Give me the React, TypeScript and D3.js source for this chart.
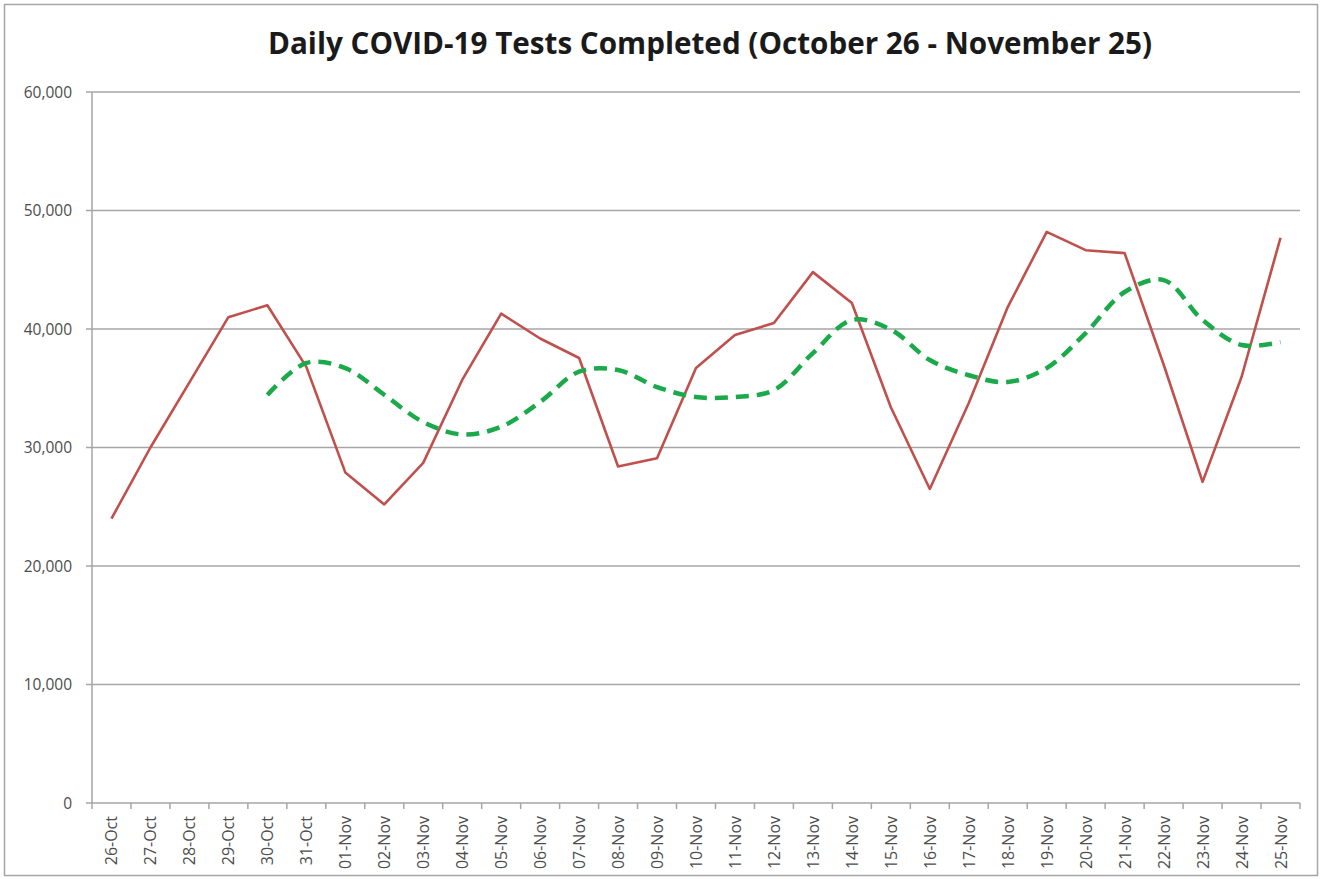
import React from "react";
import * as d3 from "d3";

const dates = [
  "26-Oct","27-Oct","28-Oct","29-Oct","30-Oct","31-Oct","01-Nov","02-Nov","03-Nov","04-Nov",
  "05-Nov","06-Nov","07-Nov","08-Nov","09-Nov","10-Nov","11-Nov","12-Nov","13-Nov","14-Nov",
  "15-Nov","16-Nov","17-Nov","18-Nov","19-Nov","20-Nov","21-Nov","22-Nov","23-Nov","24-Nov","25-Nov",
];

const dailyTests = [
  24000, 30000, 35500, 41000, 42000, 36800, 27900, 25200, 28700, 35700,
  41300, 39200, 37550, 28400, 29100, 36700, 39500, 40500, 44800, 42200,
  33400, 26500, 33750, 41850, 48200, 46650, 46400, 37000, 27100, 35950, 47700,
];

const sevenDayAvg: (number | null)[] = [
  null, null, null, null, 34430, 37130, 36700, 34450, 32150, 31100,
  31750, 33840, 36400, 36540, 35100, 34260, 34260, 34850, 37970, 40760,
  39950, 37380, 36100, 35530, 36700, 39660, 43120, 44130, 40760, 38650, 38900,
];

const yTicks = [0, 10000, 20000, 30000, 40000, 50000, 60000];
const title = "Daily COVID-19 Tests Completed (October 26 - November 25)";

export default function App() {
  const W = 1322, H = 879;
  const left = 92, right = 1300, top = 92, bottom = 803;
  const x = d3.scaleBand<string>().domain(dates).range([left, right]).padding(0);
  const y = d3.scaleLinear().domain([0, 60000]).range([bottom, top]);
  const cx = (d: string) => (x(d) ?? 0) + x.bandwidth() / 2;

  const redLine = d3.line<number>()
    .x((_, i) => cx(dates[i]))
    .y((v) => y(v))(dailyTests) ?? "";

  const avgPts = sevenDayAvg
    .map((v, i) => ({ v, d: dates[i] }))
    .filter((p) => p.v !== null) as { v: number; d: string }[];
  const greenLine = d3.line<{ v: number; d: string }>()
    .x((p) => cx(p.d))
    .y((p) => y(p.v))
    .curve(d3.curveCatmullRom.alpha(0.5))(avgPts) ?? "";

  const fmt = d3.format(",");
  const boundaries = dates.map((d) => x(d) ?? 0).concat([right]);

  return (
    <svg width={W} height={H} style={{ position: "absolute", left: 0, top: 0, background: "#fff" }}
      fontFamily="'Open Sans', 'DejaVu Sans', sans-serif">
      <rect x={4.5} y={4.5} width={1313} height={871} fill="#fff" stroke="#a6a6a6" strokeWidth={1.5} />
      <text x={710} y={54} textAnchor="middle" fontSize={29.5} fontWeight="bold" fill="#1a1a1a"
        textLength={884} lengthAdjust="spacingAndGlyphs">{title}</text>
      {yTicks.map((t) => (
        <g key={t}>
          {t > 0 && <line x1={left} x2={right} y1={y(t)} y2={y(t)} stroke="#a6a6a6" strokeWidth={1.5} />}
          <line x1={left - 6} x2={left} y1={y(t)} y2={y(t)} stroke="#a6a6a6" strokeWidth={1.5} />
          <text x={72} y={y(t) + 5.5} textAnchor="end" fontSize={15.5} fill="#4d4d4d">{fmt(t)}</text>
        </g>
      ))}
      <line x1={left} x2={left} y1={top} y2={bottom} stroke="#a6a6a6" strokeWidth={1.5} />
      <line x1={left} x2={right} y1={bottom} y2={bottom} stroke="#a6a6a6" strokeWidth={1.5} />
      {boundaries.map((bx, i) => (
        <line key={i} x1={bx} x2={bx} y1={bottom} y2={bottom + 6} stroke="#a6a6a6" strokeWidth={1.5} />
      ))}
      {dates.map((d) => (
        <text key={d} transform={`translate(${cx(d) + 6},${816}) rotate(-90)`} textAnchor="end"
          fontSize={16} fill="#4d4d4d">{d}</text>
      ))}
      <path d={redLine} fill="none" stroke="#c0504d" strokeWidth={2.6} strokeLinejoin="round" />
      <path d={greenLine} fill="none" stroke="#1aaa4a" strokeWidth={4.5} strokeDasharray="13 8" />
    </svg>
  );
}
